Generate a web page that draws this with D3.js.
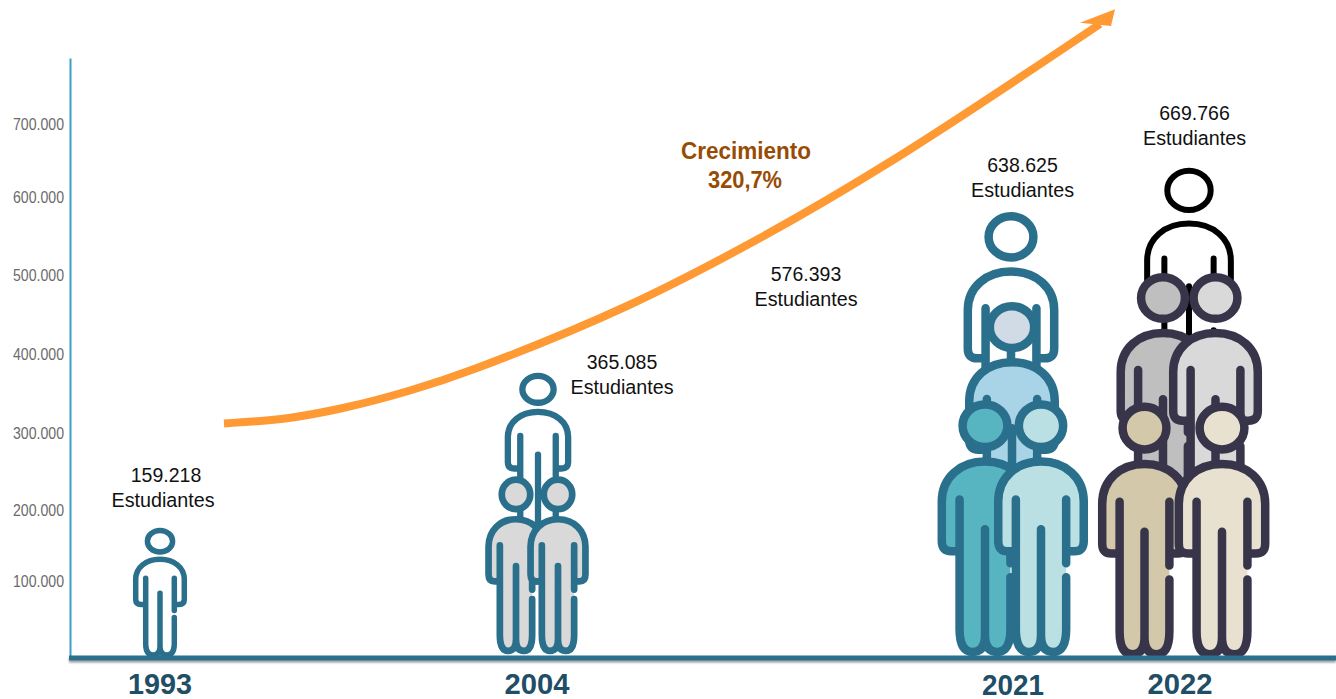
<!DOCTYPE html>
<html>
<head>
<meta charset="utf-8">
<script src="https://cdn.jsdelivr.net/npm/d3@7"></script>
<style>
    html, body { margin: 0; padding: 0; background: #fff; overflow: hidden; }
    text { font-family: "Liberation Sans", Arial, sans-serif; }
</style>
</head>
<body>
<script>
// Data
var years = [1993, 2004, 2021, 2022];
var studentValues = [159218, 365085, 576393, 638625, 669766];
var studentUnit = "Estudiantes";
var axisTicks = [100000, 200000, 300000, 400000, 500000, 600000, 700000];
var growthTitle = "Crecimiento";
var growthValue = "320,7%";

// People, back to front, read against the y axis: where head and feet reach
var peopleYear = [1993, 2004, 2004, 2004, 2021, 2021, 2021, 2021, 2022, 2022, 2022, 2022, 2022];
var peopleTop = [175000, 376000, 244000, 244000, 581000, 466000, 342000, 342000, 642000, 503000, 503000, 339000, 339000];
var peopleBase = [2000, 167000, 6500, 6500, 267000, 143000, 4000, 4000, 339000, 184000, 184000, 1000, 1000];

// Layout and style
var W = 1336, H = 699;
var BLUE = "#2a6f8c", DARK = "#38354a";
var peopleDx = [0, 1, -21, 21, -2, -1, -28, 28, 9, -17, 35.5, -35.5, 42];
var peopleWidth = [54, 67, 61, 61, 96, 95, 96, 95, 93, 94, 94, 94, 96];
var peopleFill = ["none", "none", "#d9d9d9", "#d9d9d9", "none", "#a9d3e6", "#57b5c1", "#bbe0e4", "none", "#bfbfbf", "#d9d9d9", "#d3c8a9", "#e8e1cf"];
var peopleHead = ["none", "none", "#d9d9d9", "#d9d9d9", "none", "#d0dbe6", "#57b5c1", "#bbe0e4", "none", "#bfbfbf", "#d9d9d9", "#d3c8a9", "#e8e1cf"];
var peopleStroke = [BLUE, BLUE, BLUE, BLUE, BLUE, BLUE, BLUE, BLUE, "#000", DARK, DARK, DARK, DARK];
var peopleStrokeWidth = [5.5, 6.3, 6.7, 6.7, 8.5, 8.5, 8.5, 8.5, 6, 8.5, 8.5, 8.5, 8.5];
var labelX = [163, 622, 806, 1022.5, 1194.5];
var labelY = [475, 362, 274, 165, 113];
var labelNudge = [3, 0, 0, 0, 0];
var yearLabelY = [683.5, 683, 684, 683.5];
var yearLabelWidth = [64, 65, 62, 65];
var arrowLine = [[224, 423.5], [285, 418.5], [343, 408], [410, 390.5], [477, 368], [627, 306], [760, 238], [893, 160], [1100, 24]];
var arrowHead = [[1115, 9.3], [1080, 22.7], [1111, 26]];

// One person in its own 128 tall box, centred on x = 0
var BODY_FILL = "M-24.3,71 V51 C-24.3,39 -14,31 0,31 C14,31 24.3,39 24.3,51 V71 Q24.3,76 19,76 H14.3"
    + " V115 Q14.3,126.5 7,126.5 Q0,126.5 0,118 Q0,126.5 -7,126.5 Q-14.3,126.5 -14.3,115 V76 H-19 Q-24.3,76 -24.3,71 Z";
var BODY_LINES = "M-14.3,76 H-19 Q-24.3,76 -24.3,71 V51 C-24.3,39 -14,31 0,31 C14,31 24.3,39 24.3,51 V71 Q24.3,76 19,76 H14.3"
    + " M-14.3,50 V115 Q-14.3,126.5 -7,126.5 Q0,126.5 0,118 V65 M0,118 Q0,126.5 7,126.5 Q14.3,126.5 14.3,115 V89 M14.3,82 V50";

var svg = d3.select("body").append("svg").attr("width", W).attr("height", H);

var shadow = svg.append("defs").append("filter").attr("id", "axis-shadow")
    .attr("x", "-1%").attr("y", "-100%").attr("width", "102%").attr("height", "400%");
shadow.append("feDropShadow").attr("dx", 0).attr("dy", 2).attr("stdDeviation", 1.2)
    .attr("flood-color", "#000").attr("flood-opacity", 0.4);

// Scales: the printed ticks are not evenly spaced, so the y scale goes through each of them
var y = d3.scaleLinear()
    .domain([0, 100000, 200000, 300000, 400000, 500000, 600000, 700000, 785000])
    .range([658, 581, 510.7, 433, 354, 275, 197, 124.3, 58]);
var x = d3.scaleOrdinal().domain(years).range([160, 537, 1013, 1180]);

var number = d3.formatLocale({ decimal: ",", thousands: ".", grouping: [3], currency: ["", ""] }).format(",d");

// Axes
var yAxis = svg.append("g")
    .attr("transform", "translate(70,0)")
    .call(d3.axisLeft(y).tickValues(axisTicks).tickFormat(number).tickSize(0).tickPadding(6));
yAxis.select(".domain").attr("stroke", "#3a9fc4").attr("stroke-width", 2);
yAxis.selectAll("text")
    .style("font-family", '"Liberation Sans", Arial, sans-serif')
    .style("font-size", "16.5px")
    .attr("textLength", 51)
    .attr("lengthAdjust", "spacingAndGlyphs")
    .attr("fill", "#6b6b6b");

// People
function drawPerson(i) {
    var top = y(peopleTop[i]), base = y(peopleBase[i]);
    var g = svg.append("g")
        .attr("class", "person")
        .attr("transform", "translate(" + (x(peopleYear[i]) + peopleDx[i]) + "," + top + ") scale("
            + peopleWidth[i] / 54 + "," + (base - top) / 128 + ")");
    g.append("path").attr("d", BODY_FILL).attr("fill", peopleFill[i]);
    var lines = g.append("path").attr("d", BODY_LINES).attr("fill", "none");
    var head = g.append("ellipse").attr("cx", 0).attr("cy", 13).attr("rx", 12.6).attr("ry", 10.7)
        .attr("fill", peopleHead[i]);
    [lines, head].forEach(function(part) {
        part.attr("stroke", peopleStroke[i])
            .attr("stroke-width", peopleStrokeWidth[i])
            .attr("stroke-linecap", "round")
            .attr("stroke-linejoin", "round")
            .attr("vector-effect", "non-scaling-stroke");
    });
}
peopleYear.forEach(function(d, i) { drawPerson(i); });

// Baseline goes over the feet
svg.append("rect")
    .attr("x", 69).attr("width", W - 69)
    .attr("y", y(0) - 2.5).attr("height", 5)
    .attr("fill", BLUE)
    .attr("filter", "url(#axis-shadow)");

svg.selectAll(".year")
    .data(years)
    .enter()
    .append("text")
    .attr("class", "year")
    .attr("x", function(d) { return x(d); })
    .attr("y", function(d, i) { return yearLabelY[i]; })
    .attr("dy", "0.35em")
    .attr("text-anchor", "middle")
    .attr("font-size", 30)
    .attr("font-weight", "bold")
    .attr("textLength", function(d, i) { return yearLabelWidth[i]; })
    .attr("lengthAdjust", "spacingAndGlyphs")
    .attr("fill", "#1f4e66")
    .text(function(d) { return d; });

// Growth arrow
svg.append("path")
    .attr("d", d3.line().curve(d3.curveCatmullRom)(arrowLine))
    .attr("fill", "none")
    .attr("stroke", "#ff9933")
    .attr("stroke-width", 8);
svg.append("path")
    .attr("d", d3.line()(arrowHead) + "Z")
    .attr("fill", "#ff9933");

function growthText(label, cx, cy, width) {
    svg.append("text")
        .attr("x", cx).attr("y", cy).attr("dy", "0.35em")
        .attr("text-anchor", "middle").attr("font-size", 24.5).attr("font-weight", "bold")
        .attr("textLength", width).attr("lengthAdjust", "spacingAndGlyphs")
        .attr("fill", "#974c05").text(label);
}
growthText(growthTitle, 746, 150, 130);
growthText(growthValue, 745, 179, 74);

// Value labels
function valueText(label, cx, cy, width) {
    svg.append("text")
        .attr("x", cx).attr("y", cy).attr("dy", "0.35em")
        .attr("text-anchor", "middle").attr("font-size", 20.5).attr("fill", "#111")
        .attr("textLength", width).attr("lengthAdjust", "spacingAndGlyphs")
        .text(label);
}
studentValues.forEach(function(v, i) {
    valueText(number(v), labelX[i] + labelNudge[i], labelY[i], 70.5);
    valueText(studentUnit, labelX[i], labelY[i] + 25, 103);
});
</script>
</body>
</html>
